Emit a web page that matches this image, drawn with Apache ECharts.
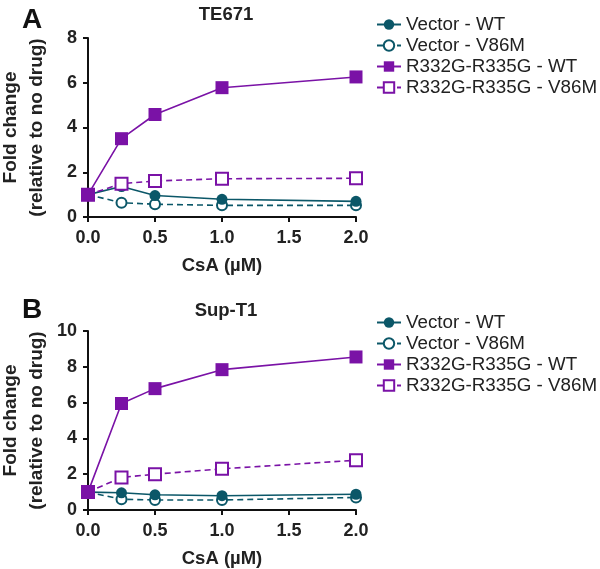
<!DOCTYPE html>
<html><head><meta charset="utf-8">
<script src="https://cdn.jsdelivr.net/npm/echarts@6/dist/echarts.min.js"></script>
<style>html,body{margin:0;padding:0;background:#fff}#c{width:600px;height:569px}</style>
</head><body><div id="c"></div>
<script>
const doses = [0, 0.25, 0.5, 1.0, 2.0];
const xTicks = ['0.0', '0.5', '1.0', '1.5', '2.0'];
const seriesNames = ['Vector - WT', 'Vector - V86M', 'R332G-R335G - WT', 'R332G-R335G - V86M'];
// Panel A: TE671
const te671_vectorWT = [1.0, 1.36, 0.96, 0.79, 0.70];
const te671_vectorV86M = [1.0, 0.64, 0.57, 0.52, 0.52];
const te671_mutWT = [1.0, 3.5, 4.58, 5.78, 6.26];
const te671_mutV86M = [1.0, 1.49, 1.61, 1.71, 1.73];
// Panel B: Sup-T1
const supt1_vectorWT = [1.0, 0.96, 0.85, 0.80, 0.88];
const supt1_vectorV86M = [1.0, 0.60, 0.56, 0.56, 0.70];
const supt1_mutWT = [1.0, 5.95, 6.78, 7.84, 8.55];
const supt1_mutV86M = [1.0, 1.82, 2.0, 2.3, 2.78];

const TEAL = '#0b5768';
const PURPLE = '#7a12a6';
const FONT = 'Liberation Sans, Arial, sans-serif';

function pts(vals){ return doses.map((d,i)=>[d, vals[i]]); }

function mkSeries(idx, sets){
  const styles = [
    {color: TEAL, symbol:'circle', size:11, dash:'solid', z:3},
    {color: TEAL, symbol:'emptyCircle', size:10, dash:[6,4], z:2},
    {color: PURPLE, symbol:'rect', size:13, dash:'solid', z:5},
    {color: PURPLE, symbol:'emptyRect', size:12, dash:[6,4], z:4}
  ];
  return sets.map((vals, k) => {
    const s = styles[k];
    return {
      name: seriesNames[k], type:'line', xAxisIndex: idx, yAxisIndex: idx,
      data: pts(vals), symbol: s.symbol, symbolSize: s.size, z: s.z,
      showAllSymbol: true, animation:false,
      lineStyle:{color:s.color, width:1.6, type:s.dash},
      itemStyle:{color:s.color, borderColor:s.color, borderWidth: s.symbol.startsWith('empty')?2.2:0}
    };
  });
}

function xAxis(idx){
  return {type:'value', gridIndex: idx, min:0, max:2, interval:0.5,
    name:'CsA (µM)', nameLocation:'middle', nameGap:39,
    nameTextStyle:{fontFamily:FONT, fontWeight:'bold', fontSize:18.5, color:'#222'},
    axisLine:{show:true, lineStyle:{color:'#111', width:2}},
    axisTick:{show:true, length:5, lineStyle:{color:'#111', width:2}},
    splitLine:{show:false},
    axisLabel:{fontFamily:FONT, fontWeight:'bold', fontSize:18, color:'#222', margin:12,
      formatter: v => xTicks[Math.round(v/0.5)]}
  };
}
function yAxis(idx, max){
  return {type:'value', gridIndex: idx, min:0, max:max, interval:2,
    name:'Fold change\n(relative to no drug)', nameLocation:'middle', nameGap:38, nameRotate:90,
    nameTextStyle:{fontFamily:FONT, fontWeight:'bold', fontSize:19, color:'#222', lineHeight:26},
    axisLine:{show:true, lineStyle:{color:'#111', width:2}},
    axisTick:{show:true, length:5, lineStyle:{color:'#111', width:2}},
    splitLine:{show:false},
    axisLabel:{fontFamily:FONT, fontWeight:'bold', fontSize:18, color:'#222', margin:11}
  };
}
function legend(top){
  return {top: top, left: 371, orient:'vertical', itemGap:2, itemWidth:24, itemHeight:13,
    data: seriesNames,
    textStyle:{fontFamily:FONT, fontSize:18.8, color:'#222'}};
}

const chart = echarts.init(document.getElementById('c'));
chart.setOption({
  animation:false,
  title:[
    {text:'A', left:17, top:1, textStyle:{fontFamily:FONT, fontWeight:'bold', fontSize:28, color:'#111'}},
    {text:'TE671', left:221, top:0, textAlign:'center', textStyle:{fontFamily:FONT, fontWeight:'bold', fontSize:18.5, color:'#222'}},
    {text:'B', left:17, top:291, textStyle:{fontFamily:FONT, fontWeight:'bold', fontSize:28, color:'#111'}},
    {text:'Sup-T1', left:221, top:296, textAlign:'center', textStyle:{fontFamily:FONT, fontWeight:'bold', fontSize:18.5, color:'#222'}}
  ],
  legend:[legend(10), legend(308)],
  grid:[
    {left:88, top:38, width:268, height:179, containLabel:false, outerBoundsMode:'none'},
    {left:88, top:331, width:268, height:179, containLabel:false, outerBoundsMode:'none'}
  ],
  xAxis:[xAxis(0), xAxis(1)],
  yAxis:[yAxis(0, 8), yAxis(1, 10)],
  series:[
    ...mkSeries(0, [te671_vectorWT, te671_vectorV86M, te671_mutWT, te671_mutV86M]),
    ...mkSeries(1, [supt1_vectorWT, supt1_vectorV86M, supt1_mutWT, supt1_mutV86M])
  ]
});
</script></body></html>
